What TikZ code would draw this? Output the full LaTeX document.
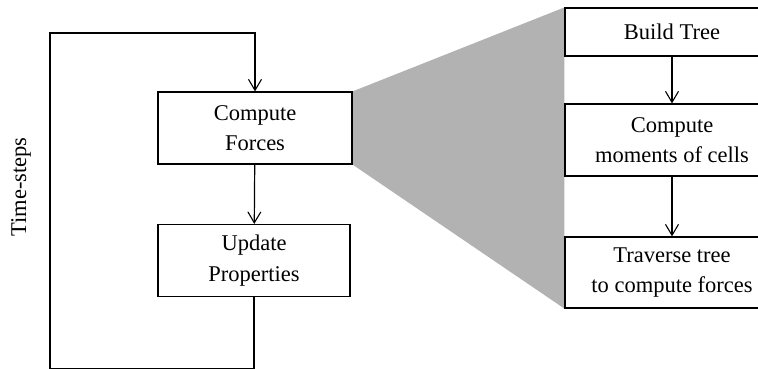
\documentclass[tikz,border=0pt]{standalone}
\usepackage{fontspec}
\setmainfont{Liberation Serif}
\usetikzlibrary{arrows.meta,backgrounds}
\begin{document}
\begin{tikzpicture}[x=1pt,y=-1pt,
  box/.style={draw,line width=1.2pt,fill=white,align=center,inner sep=0pt,
    font=\fontsize{22.5}{30.5}\selectfont},
  rbox/.style={box,minimum width=214pt},
  conn/.style={line width=1.2pt,-{Straight Barb[length=11pt,width=13pt,line width=1.1pt]}},
  loopline/.style={line width=1.2pt}]
\useasboundingbox (0,0) rectangle (758,368);
\clip (0,0) rectangle (758,368);
\node[box,minimum width=194pt,minimum height=72pt] (cf) at (255,128) {Compute\\Forces};
\node[box,minimum width=192pt,minimum height=72pt] (up) at (254,260.5) {Update\\Properties};
\node[rbox,minimum height=48pt] (b1) at (672,32) {Build Tree};
\node[rbox,minimum height=72pt] (b2) at (672,140) {Compute\\moments of cells};
\node[rbox,minimum height=71pt] (b3) at (672,272.5) {Traverse tree\\to compute forces};
\node[rotate=90,font=\fontsize{22.5}{26}\selectfont] (ts) at (21,187) {Time-steps};
\coordinate (lb) at (50,368.6);
\coordinate (lt) at (50,33);
\begin{scope}[on background layer]
\fill[black!30] (cf.north east) -- (b1.north west) -- (b3.south west) -- (cf.south east) -- cycle;
\end{scope}
\draw[conn] (cf) -- (up);
\draw[conn] (b1) -- (b2);
\draw[conn] (b2) -- (b3);
\draw[conn] (up.south) -- (up.south |- lb) -- (lb) -- (lt) -- (lt -| cf.north) -- (cf.north);
\end{tikzpicture}
\end{document}
